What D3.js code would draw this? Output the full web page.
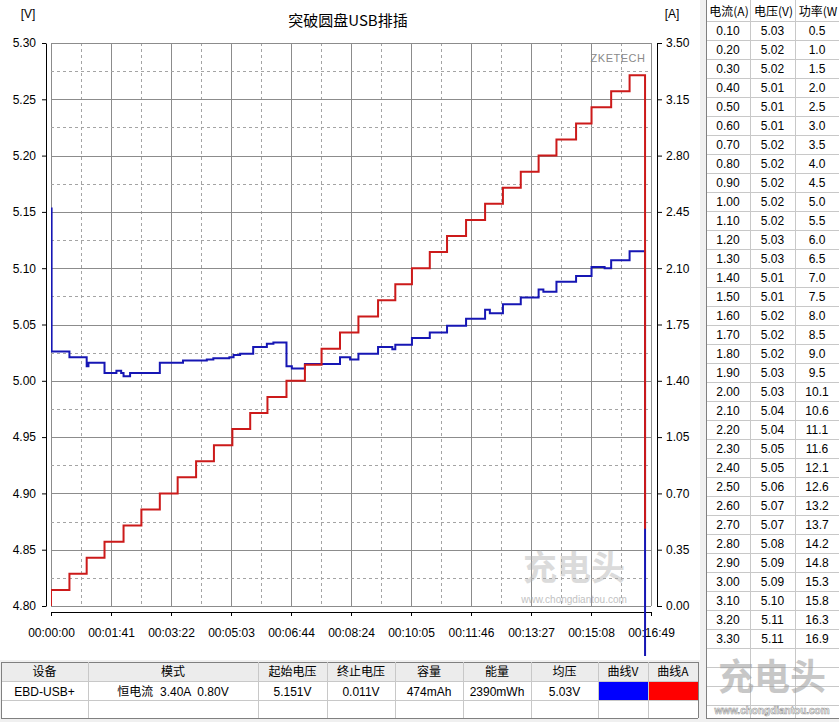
<!DOCTYPE html>
<html lang="zh">
<head>
<meta charset="utf-8">
<title>突破圆盘USB排插</title>
<script src="https://cdn.jsdelivr.net/npm/d3@7"></script>
<style>
  body { margin: 0; background: #f0f0f0; }
  svg { display: block; font-family: "Liberation Sans", "Noto Sans CJK SC", sans-serif; }
  .axis path, .axis line { stroke: #000; }
  .axis text { font-size: 12px; fill: #000; font-family: "Liberation Sans", sans-serif; }
</style>
</head>
<body>
<script>
// ---- data ----
var chartTitle = "突破圆盘USB排插";
var timeLabels = ["00:00:00", "00:01:41", "00:03:22", "00:05:03", "00:06:44", "00:08:24",
                  "00:10:05", "00:11:46", "00:13:27", "00:15:08", "00:16:49"];
var vTicks = [4.80, 4.85, 4.90, 4.95, 5.00, 5.05, 5.10, 5.15, 5.20, 5.25, 5.30];
var aTicks = [0.00, 0.35, 0.70, 1.05, 1.40, 1.75, 2.10, 2.45, 2.80, 3.15, 3.50];

// current steps (seconds, amps)
var stepTimes = [0, 31, 60, 90, 122, 152, 183, 213, 244, 274, 305, 335, 364, 396, 427, 455, 486,
                 517, 550, 579, 607, 637, 666, 698, 730, 760, 790, 820, 850, 883, 909, 942, 973];
var currents = [0.10, 0.20, 0.30, 0.40, 0.50, 0.60, 0.70, 0.80, 0.90, 1.00, 1.10, 1.20, 1.30, 1.40,
                1.50, 1.60, 1.70, 1.80, 1.90, 2.00, 2.10, 2.20, 2.30, 2.40, 2.50, 2.60, 2.70, 2.80,
                2.90, 3.00, 3.10, 3.20, 3.30];
var endTime = 999;
var endCurrent = 0.48;

// voltage samples (seconds, volts)
var voltTimes = [0, 1, 31, 60, 63, 90, 110, 118, 122, 133, 183, 222, 262, 273, 300, 307, 318, 340,
                 363, 374, 396, 405, 427, 486, 503, 517, 550, 574, 579, 607, 637, 666, 698, 730,
                 738, 760, 790, 820, 828, 850, 883, 909, 931, 942, 973, 999];
var volts = [5.153, 5.026, 5.021, 5.013, 5.016, 5.007, 5.009, 5.007, 5.004, 5.007, 5.016, 5.018,
             5.019, 5.020, 5.021, 5.023, 5.024, 5.030, 5.033, 5.034, 5.013, 5.011, 5.015, 5.021,
             5.019, 5.024, 5.030, 5.028, 5.032, 5.038, 5.043, 5.049, 5.055, 5.063, 5.060, 5.068,
             5.074, 5.081, 5.079, 5.088, 5.093, 5.101, 5.100, 5.107, 5.115, 0.011];

// side table
var tblCurrent = ["0.10","0.20","0.30","0.40","0.50","0.60","0.70","0.80","0.90","1.00","1.10",
                  "1.20","1.30","1.40","1.50","1.60","1.70","1.80","1.90","2.00","2.10","2.20",
                  "2.30","2.40","2.50","2.60","2.70","2.80","2.90","3.00","3.10","3.20","3.30"];
var tblVoltage = ["5.03","5.02","5.02","5.01","5.01","5.01","5.02","5.02","5.02","5.02","5.02",
                  "5.03","5.03","5.01","5.01","5.02","5.02","5.02","5.03","5.03","5.04","5.04",
                  "5.05","5.05","5.06","5.07","5.07","5.08","5.09","5.09","5.10","5.11","5.11"];
var tblPower = ["0.5","1.0","1.5","2.0","2.5","3.0","3.5","4.0","4.5","5.0","5.5","6.0","6.5",
                "7.0","7.5","8.0","8.5","9.0","9.5","10.1","10.6","11.1","11.6","12.1","12.6",
                "13.2","13.7","14.2","14.8","15.3","15.8","16.3","16.9"];
var tblHeader = ["电流(A)", "电压(V)", "功率(W"];

// bottom summary table
var sumHeader = ["设备", "模式", "起始电压", "终止电压", "容量", "能量", "均压", "曲线V", "曲线A"];
var sumValues = ["EBD-USB+", "恒电流  3.40A  0.80V", "5.151V", "0.011V", "474mAh", "2390mWh", "5.03V", "", ""];

// ---- layout ----
var W = 839, H = 722;
var pl = 51, pr = 651, pt = 43, pb = 606;
var blue = "#1616b4", red = "#cc1a1a";

var svg = d3.select("body").append("svg").attr("width", W).attr("height", H);
svg.append("rect").attr("width", W).attr("height", H).attr("fill", "#f0f0f0");
svg.append("rect").attr("width", 700).attr("height", 660).attr("fill", "#fff");

var x = d3.scaleLinear().domain([0, 1009]).range([pl, pr]);
var yV = d3.scaleLinear().domain([4.80, 5.30]).range([pb, pt]);
var yA = d3.scaleLinear().domain([0, 3.5]).range([pb, pt]);

// grid
var g = svg.append("g");
var xGrid = d3.range(0, 21).map(function(i) { return i * 1009 / 20; });
g.selectAll(".vx").data(xGrid).enter().append("line")
  .attr("x1", function(d) { return Math.round(x(d)) + 0.5; })
  .attr("x2", function(d) { return Math.round(x(d)) + 0.5; })
  .attr("y1", pt).attr("y2", pb)
  .attr("stroke", function(d, i) { return i % 2 ? "#a4a4a4" : "#8c8c8c"; })
  .attr("stroke-dasharray", function(d, i) { return i % 2 ? "3,3" : null; });
var yGrid = d3.range(0, 21).map(function(i) { return 4.80 + i * 0.025; });
g.selectAll(".hy").data(yGrid).enter().append("line")
  .attr("y1", function(d) { return Math.round(yV(d)) + 0.5; })
  .attr("y2", function(d) { return Math.round(yV(d)) + 0.5; })
  .attr("x1", pl).attr("x2", pr)
  .attr("stroke", function(d, i) { return i % 2 ? "#a4a4a4" : "#8c8c8c"; })
  .attr("stroke-dasharray", function(d, i) { return i % 2 ? "3,3" : null; });

// watermarks
svg.append("text").attr("x", 618).attr("y", 62).attr("text-anchor", "middle")
  .attr("font-size", 11).attr("fill", "#8a8a8a").attr("letter-spacing", "0.5px").text("ZKETECH");
svg.append("text").attr("x", 574).attr("y", 580).attr("text-anchor", "middle")
  .attr("font-size", 34).attr("font-weight", "bold").attr("fill", "#b0b0b0").attr("opacity", 0.45)
  .attr("font-family", "Noto Sans CJK SC").text("充电头");
svg.append("text").attr("x", 574).attr("y", 603).attr("text-anchor", "middle")
  .attr("font-size", 10).attr("fill", "#a8a8a8").attr("opacity", 0.7).text("www.chongdiantou.com");

// axes
svg.append("g").attr("class", "axis").attr("transform", "translate(46,0)")
  .call(d3.axisLeft(yV).tickValues(vTicks).tickSize(4).tickSizeOuter(0).tickPadding(6)
    .tickFormat(d3.format(".2f")));
svg.append("g").attr("class", "axis").attr("transform", "translate(657,0)")
  .call(d3.axisRight(yA).tickValues(aTicks).tickSize(5).tickSizeOuter(0).tickPadding(4)
    .tickFormat(d3.format(".2f")));
svg.append("g").attr("class", "axis").attr("transform", "translate(0,612)")
  .call(d3.axisBottom(x).tickValues(d3.range(0, 11).map(function(i) { return i * 100.9; }))
    .tickSize(4).tickSizeOuter(0).tickPadding(12)
    .tickFormat(function(d, i) { return timeLabels[i]; }));

svg.append("text").attr("x", 28).attr("y", 18).attr("text-anchor", "middle").attr("font-size", 12).text("[V]");
svg.append("text").attr("x", 672).attr("y", 18).attr("text-anchor", "middle").attr("font-size", 12).text("[A]");
svg.append("text").attr("x", 348).attr("y", 26).attr("text-anchor", "middle").attr("font-size", 15)
  .attr("font-family", "Noto Sans CJK SC").text(chartTitle);

// curves
svg.append("clipPath").attr("id", "clip").append("rect")
  .attr("x", pl).attr("y", pt - 4).attr("width", pr - pl + 2).attr("height", 656 - pt + 4);

var vPts = voltTimes.map(function(t, i) { return [t, volts[i]]; });
var aPts = [[0, 0]].concat(stepTimes.map(function(t, i) { return [t, currents[i]]; }))
  .concat([[endTime, currents[currents.length - 1]], [endTime, endCurrent]]);

var vLine = d3.line().curve(d3.curveStepAfter)
  .x(function(d) { return x(d[0]); }).y(function(d) { return yV(d[1]); });
var aLine = d3.line().curve(d3.curveStepAfter)
  .x(function(d) { return x(d[0]); }).y(function(d) { return yA(d[1]); });

var lines = svg.append("g").attr("clip-path", "url(#clip)");
lines.append("path").datum(vPts).attr("d", vLine)
  .attr("fill", "none").attr("stroke", blue).attr("stroke-width", 2);
lines.append("path").datum(aPts).attr("d", aLine)
  .attr("fill", "none").attr("stroke", red).attr("stroke-width", 2);

// side table
var tx = [706, 750, 795, 839];
var rowH = 19, row0 = 21;
var side = svg.append("g").attr("font-size", 12);
side.append("rect").attr("x", 706).attr("y", 0).attr("width", 133).attr("height", 719).attr("fill", "#fff");
var nRows = 37;
for (var r = 0; r < nRows; r++) {
  var yy = row0 + r * rowH;
  if (yy > 719) break;
  side.append("line").attr("x1", 706).attr("x2", 839).attr("y1", yy + 0.5).attr("y2", yy + 0.5)
    .attr("stroke", "#c8c8c8");
}
tx.forEach(function(cx, i) {
  side.append("line").attr("x1", cx + 0.5).attr("x2", cx + 0.5).attr("y1", 0).attr("y2", 719)
    .attr("stroke", i == 0 ? "#808080" : "#c8c8c8");
});
side.append("line").attr("x1", 706).attr("x2", 839).attr("y1", 718.5).attr("y2", 718.5).attr("stroke", "#808080");
var cols = [tblCurrent, tblVoltage, tblPower];
tblHeader.forEach(function(h, i) {
  side.append("text").attr("x", (tx[i] + tx[i + 1]) / 2 + 1).attr("y", 16)
    .attr("text-anchor", "middle").attr("font-family", "Noto Sans CJK SC, Liberation Sans")
    .attr("font-size", 12).text(h);
});
cols.forEach(function(col, ci) {
  side.selectAll(".c" + ci).data(col).enter().append("text")
    .attr("x", (tx[ci] + tx[ci + 1]) / 2)
    .attr("y", function(d, i) { return row0 + i * rowH + 14; })
    .attr("text-anchor", "middle").text(function(d) { return d; });
});
svg.append("text").attr("x", 772).attr("y", 690).attr("text-anchor", "middle")
  .attr("font-size", 36).attr("font-weight", "bold").attr("fill", "#9a9a9a").attr("opacity", 0.55)
  .attr("font-family", "Noto Sans CJK SC").text("充电头");
svg.append("text").attr("x", 772).attr("y", 714).attr("text-anchor", "middle")
  .attr("font-size", 10).attr("font-weight", "bold").attr("fill", "#fff").attr("stroke", "#999")
  .attr("stroke-width", 0.6).text("www.chongdiantou.com");

// bottom table
var bx = [1, 88, 258, 327, 395, 463, 531, 598, 648, 698];
var by = [662, 681, 700, 718];
var bot = svg.append("g").attr("font-size", 12);
bot.append("rect").attr("x", bx[0]).attr("y", by[0]).attr("width", bx[9] - bx[0]).attr("height", by[1] - by[0]).attr("fill", "#ececec");
bot.append("rect").attr("x", bx[0]).attr("y", by[1]).attr("width", bx[9] - bx[0]).attr("height", by[3] - by[1]).attr("fill", "#fff");
bot.append("rect").attr("x", bx[7] + 1).attr("y", by[1] + 1).attr("width", bx[8] - bx[7] - 1).attr("height", by[2] - by[1] - 1).attr("fill", "#0000ff");
bot.append("rect").attr("x", bx[8] + 1).attr("y", by[1] + 1).attr("width", bx[9] - bx[8] - 1).attr("height", by[2] - by[1] - 1).attr("fill", "#ff0000");
by.forEach(function(v, i) {
  bot.append("line").attr("x1", bx[0]).attr("x2", bx[9]).attr("y1", v + 0.5).attr("y2", v + 0.5)
    .attr("stroke", (i == 0 || i == 3) ? "#808080" : "#c8c8c8");
});
bx.forEach(function(v, i) {
  bot.append("line").attr("x1", v + 0.5).attr("x2", v + 0.5).attr("y1", by[0]).attr("y2", by[3])
    .attr("stroke", (i == 0 || i == 9) ? "#808080" : "#c8c8c8");
});
sumHeader.forEach(function(h, i) {
  bot.append("text").attr("x", (bx[i] + bx[i + 1]) / 2).attr("y", 676)
    .attr("text-anchor", "middle").attr("font-family", "Noto Sans CJK SC").text(h);
});
sumValues.forEach(function(v, i) {
  bot.append("text").attr("x", (bx[i] + bx[i + 1]) / 2).attr("y", 696)
    .attr("text-anchor", "middle").attr("xml:space", "preserve").style("white-space", "pre")
    .attr("font-family", "Liberation Sans, Noto Sans CJK SC").text(v);
});
</script>
</body>
</html>
